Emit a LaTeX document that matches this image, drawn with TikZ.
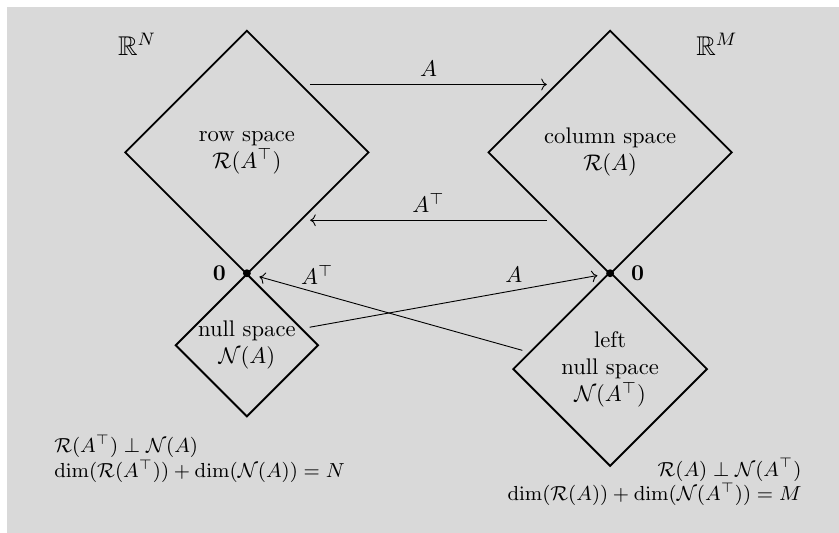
\documentclass[tikz,border=0pt]{standalone}
\usepackage{amsmath}
\usepackage{amssymb}
\usetikzlibrary{arrows.meta, shapes.geometric, positioning, calc}
\definecolor{PanelGray}{HTML}{D9D9D9}
\newcommand{\AT}{A^{\top}}

\begin{document}
\begin{tikzpicture}[
  space/.style={diamond, draw, thick, aspect=1, inner sep=0pt, outer sep=3pt, align=center},
  origin/.style={circle, fill, inner sep=0pt, minimum size=3.5pt, outer sep=4pt, label distance=-1.5pt}
]
  \useasboundingbox (0,0) rectangle (13.05,8.29);
  \fill[PanelGray] (0.11,0) rectangle (13.05,8.18);
  % the four subspaces
  \node[space, minimum size=3.87cm] (row) at (3.84,5.92) {row space\\ $\mathcal{R}(\AT)$};
  \node[space, minimum size=3.87cm] (col) at (9.49,5.92) {column space\\ $\mathcal{R}(A)$};
  \node[space, minimum size=2.30cm] (null) at (3.84,2.92) {null space\\ $\mathcal{N}(A)$};
  \node[space, minimum size=3.10cm] (lnull) at (9.49,2.55) {left\\ null space\\ $\mathcal{N}(\AT)$};
  % origins
  \node[origin, label=left:$\mathbf{0}$] (zeroN) at (3.84,4.04) {};
  \node[origin, label=right:$\mathbf{0}$] (zeroM) at (9.49,4.04) {};
  \node[font=\large] (RN) at (2.13,7.60) {$\mathbb{R}^N$};
  \node[font=\large] (RM) at (11.15,7.60) {$\mathbb{R}^M$};
  % maps
  \draw[->] (row.47) -- node[above] {$A$} (col.133);
  \draw[->] (col.227) -- node[above] {$\AT$} (row.-47);
  \draw[->] (null.16) -- node[above, pos=0.71] {$A$} (zeroM);
  \draw[->] (lnull.168) -- node[above, pos=0.78] {$\AT$} (zeroN);
  % relations
  \node[anchor=north west, align=left, font=\small] (relN) at (0.72,1.65)
    {$\mathcal{R}(\AT)\perp\mathcal{N}(A)$\\ $\dim(\mathcal{R}(\AT))+\dim(\mathcal{N}(A))=N$};
  \node[anchor=north east, align=right, font=\small] (relM) at (12.59,1.29)
    {$\mathcal{R}(A)\perp\mathcal{N}(\AT)$\\ $\dim(\mathcal{R}(A))+\dim(\mathcal{N}(\AT))=M$};
\end{tikzpicture}
\end{document}
